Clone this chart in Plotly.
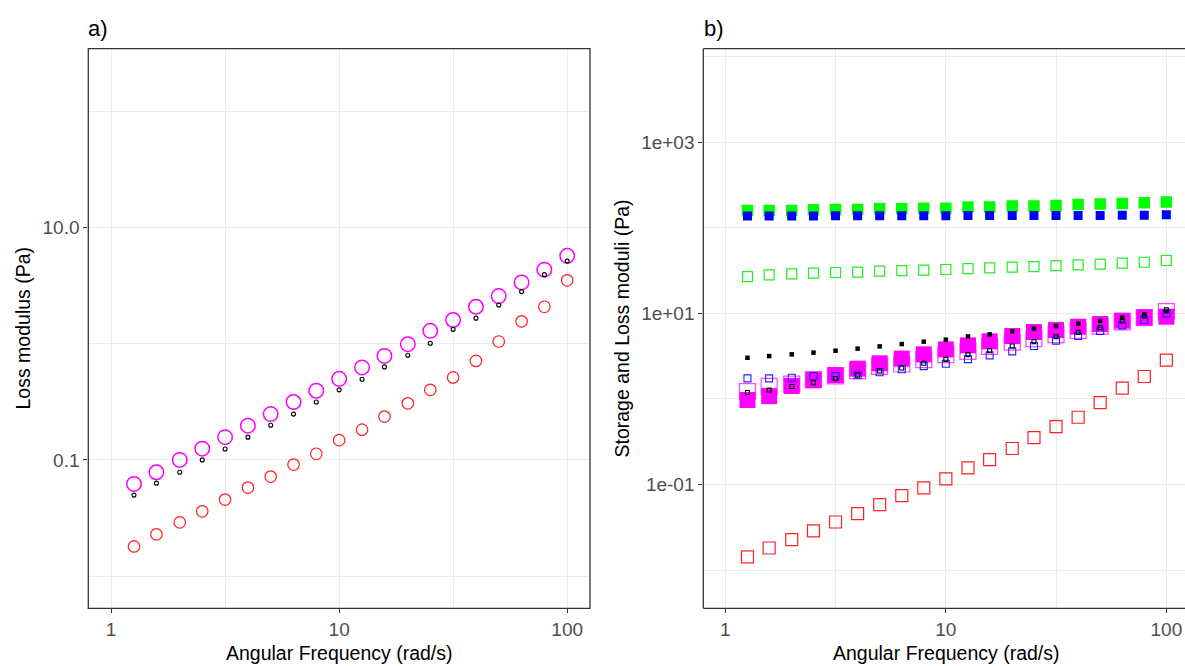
import plotly.graph_objects as go

# ---------------- data ----------------
freq = [1.26, 1.58, 2.0, 2.51, 3.16, 3.98, 5.01, 6.31, 7.94, 10.0,
        12.6, 15.8, 20.0, 25.1, 31.6, 39.8, 50.1, 63.1, 79.4, 100.0]

# panel a) loss modulus
a_red = [0.0180, 0.0229, 0.0290, 0.0361, 0.0456, 0.0578, 0.0719, 0.0912, 0.113, 0.148,
         0.182, 0.236, 0.307, 0.401, 0.513, 0.711, 1.045, 1.56, 2.08, 3.51]
a_magenta = [0.0622, 0.0783, 0.100, 0.125, 0.157, 0.197, 0.248, 0.315, 0.394, 0.499,
             0.625, 0.785, 0.991, 1.29, 1.60, 2.08, 2.57, 3.37, 4.34, 5.71]
a_black = [0.0498, 0.0631, 0.0783, 0.100, 0.124, 0.157, 0.199, 0.248, 0.315, 0.401,
           0.495, 0.632, 0.796, 1.01, 1.33, 1.66, 2.15, 2.81, 3.93, 5.14]

# panel b) storage and loss moduli
b_green_fill = [159, 159, 159, 162, 163, 163, 166, 166, 169, 169,
                174, 174, 179, 179, 182, 187, 189, 192, 195, 199]
b_blue_fill = [137, 137, 137, 137, 138, 138, 138, 138, 138, 138,
               139, 139, 139, 139, 139, 139, 139, 140, 140, 142]
b_green_open = [26.9, 28.2, 28.9, 29.5, 30.0, 30.3, 31.1, 31.6, 32.0, 32.5,
                33.3, 34.0, 34.6, 35.2, 36.1, 36.8, 37.5, 38.5, 39.5, 41.4]
b_magenta_open = [1.22, 1.40, 1.49, 1.68, 1.86, 2.14, 2.40, 2.56, 2.88, 3.29,
                  3.60, 4.11, 4.62, 5.06, 5.64, 6.31, 7.08, 7.94, 8.91, 10.5]
b_magenta_fill = [0.97, 1.08, 1.42, 1.66, 1.90, 2.26, 2.61, 2.96, 3.32, 3.79,
                  4.23, 4.71, 5.43, 6.05, 6.38, 6.98, 7.50, 8.22, 8.97, 9.14]
b_black_fill = [3.03, 3.17, 3.32, 3.48, 3.66, 3.87, 4.11, 4.38, 4.67, 4.93,
                5.38, 5.68, 6.17, 6.62, 7.11, 7.59, 8.13, 8.91, 9.72, 10.6]
b_blue_open = [1.74, 1.74, 1.77, 1.85, 1.85, 1.89, 2.05, 2.22, 2.42, 2.58,
               2.92, 3.23, 3.60, 4.15, 4.80, 5.43, 6.21, 7.24, 8.36, 10.0]
b_black_open = [1.19, 1.27, 1.40, 1.55, 1.73, 1.90, 2.12, 2.30, 2.61, 2.90,
                3.30, 3.66, 4.15, 4.67, 5.35, 6.00, 6.81, 8.13, 9.33, 11.0]
b_red_open = [0.0143, 0.0182, 0.0228, 0.0288, 0.0366, 0.0458, 0.0583, 0.0743, 0.0914, 0.117,
              0.157, 0.196, 0.264, 0.354, 0.476, 0.612, 0.908, 1.34, 1.83, 2.84]

x_ticks = [1, 10, 100]
x_ticktext = ["1", "10", "100"]
a_yticks = [0.1, 10]
a_yticktext = ["0.1", "10.0"]
b_yticks = [0.1, 10, 1000]
b_yticktext = ["1e-01", "1e+01", "1e+03"]

# ---------------- layout geometry ----------------
W, H = 1185, 666
FONT = "Liberation Sans, Arial, sans-serif"
GRID = "#EBEBEB"
BORDER = "#333333"
TICKCOL = "#4D4D4D"


def px_x(p):
    return p / W


def px_y(p):
    return 1 - p / H


fig = go.Figure()


def sc(x, y, xa, ya, symbol, size, color, lw=1.0, name=""):
    fig.add_trace(go.Scatter(
        x=x, y=y, mode="markers", xaxis=xa, yaxis=ya, name=name,
        marker=dict(symbol=symbol, size=size, color=color,
                    line=dict(color=color, width=lw)),
        showlegend=False, hoverinfo="x+y"))


# panel a
sc(freq, a_red, "x", "y", "circle-open", 11.5, "#FF2020", 1.2, "red")
sc(freq, a_magenta, "x", "y", "circle-open", 14.5, "#FF00FF", 1.5, "magenta")
sc(freq, a_black, "x", "y", "circle-open", 4, "#000000", 1.1, "black")

# panel b
sc(freq, b_green_fill, "x2", "y2", "square", 11.5, "#00FF00", 0, "G' green")
sc(freq, b_blue_fill, "x2", "y2", "square", 9, "#0000FF", 0, "G' blue")
sc(freq, b_green_open, "x2", "y2", "square-open", 10, "#22EE22", 1.2, "G'' green")
sc(freq, b_red_open, "x2", "y2", "square-open", 12, "#FF2020", 1.2, "red")
sc(freq, b_magenta_open, "x2", "y2", "square-open", 16, "#FF44FF", 1.2, "magenta open")
sc(freq, b_magenta_fill, "x2", "y2", "square", 16, "#FF00FF", 0, "magenta")
sc(freq, b_black_fill, "x2", "y2", "square", 4.5, "#000000", 0, "black")
sc(freq, b_blue_open, "x2", "y2", "square-open", 7, "#2020FF", 1.1, "blue open")
sc(freq, b_black_open, "x2", "y2", "square-open", 4, "#000000", 1.1, "black open")

# domains (pixel measurements)
a_left, a_right = 88.3, 590.0
b_left, b_right = 703.3, 1185.0
top, bottom = 48.7, 608.3

common_x = dict(type="log", tickvals=x_ticks, ticktext=x_ticktext,
                showgrid=True, gridcolor=GRID, gridwidth=1.1,
                ticks="outside", ticklen=4, tickcolor=BORDER, tickwidth=1,
                tickfont=dict(family=FONT, size=19, color=TICKCOL),
                zeroline=False, showline=False,
                minor=dict(tickvals=[3.16, 31.6], showgrid=True, gridcolor=GRID,
                           gridwidth=0.6, ticks=""))

fig.update_layout(
    width=W, height=H,
    margin=dict(l=0, r=0, t=0, b=0),
    paper_bgcolor="white", plot_bgcolor="white",
    font=dict(family=FONT),
    xaxis=dict(common_x, domain=[px_x(a_left), px_x(a_right)], range=[-0.1, 2.1], anchor="y"),
    yaxis=dict(type="log", domain=[px_y(bottom), px_y(top)], range=[-2.277, 2.539],
               anchor="x", tickvals=a_yticks, ticktext=a_yticktext,
               showgrid=True, gridcolor=GRID, gridwidth=1.1,
               ticks="outside", ticklen=4, tickcolor=BORDER, tickwidth=1,
               tickfont=dict(family=FONT, size=19, color=TICKCOL),
               zeroline=False, showline=False,
               minor=dict(tickvals=[0.01, 1, 100], showgrid=True, gridcolor=GRID,
                          gridwidth=0.6, ticks="")),
    xaxis2=dict(common_x, domain=[px_x(b_left), px_x(b_right)],
                range=[-0.1, -0.1 + (b_right - b_left) / 220.5], anchor="y2"),
    yaxis2=dict(type="log", domain=[px_y(bottom), px_y(top)], range=[-2.444, 4.090],
                anchor="x2", tickvals=b_yticks, ticktext=b_yticktext,
                showgrid=True, gridcolor=GRID, gridwidth=1.1,
                ticks="outside", ticklen=4, tickcolor=BORDER, tickwidth=1,
                tickfont=dict(family=FONT, size=19, color=TICKCOL),
                zeroline=False, showline=False,
                minor=dict(tickvals=[0.01, 1, 100, 10000], showgrid=True, gridcolor=GRID,
                           gridwidth=0.6, ticks="")),
)

# panel borders
fig.add_shape(type="rect", xref="paper", yref="paper",
              x0=px_x(a_left), x1=px_x(a_right), y0=px_y(bottom), y1=px_y(top),
              line=dict(color=BORDER, width=1.3), layer="above")
for (x0, y0, x1, y1) in [(b_left, top, b_left, bottom),
                         (b_left, top, b_right + 10, top),
                         (b_left, bottom, b_right + 10, bottom)]:
    fig.add_shape(type="line", xref="paper", yref="paper",
                  x0=px_x(x0), x1=px_x(x1), y0=px_y(y0), y1=px_y(y1),
                  line=dict(color=BORDER, width=1.3), layer="above")

# titles and axis titles
def ann(text, x, y, size, angle=0, xanchor="center"):
    fig.add_annotation(text=text, xref="paper", yref="paper",
                       x=px_x(x), y=px_y(y), showarrow=False,
                       xanchor=xanchor, yanchor="middle", textangle=angle,
                       font=dict(family=FONT, size=size, color="black"))

ann("a)", 86, 29, 22, xanchor="left")
ann("b)", 702, 29, 22, xanchor="left")
ann("Angular Frequency (rad/s)", (a_left + a_right) / 2, 653, 19.5)
ann("Angular Frequency (rad/s)", (b_left + 1188.8) / 2, 653, 19.5)
ann("Loss modulus (Pa)", 22, (top + bottom) / 2, 19.5, angle=-90)
ann("Storage and Loss moduli (Pa)", 621, (top + bottom) / 2, 19.5, angle=-90)

fig.write_html("out.html")
